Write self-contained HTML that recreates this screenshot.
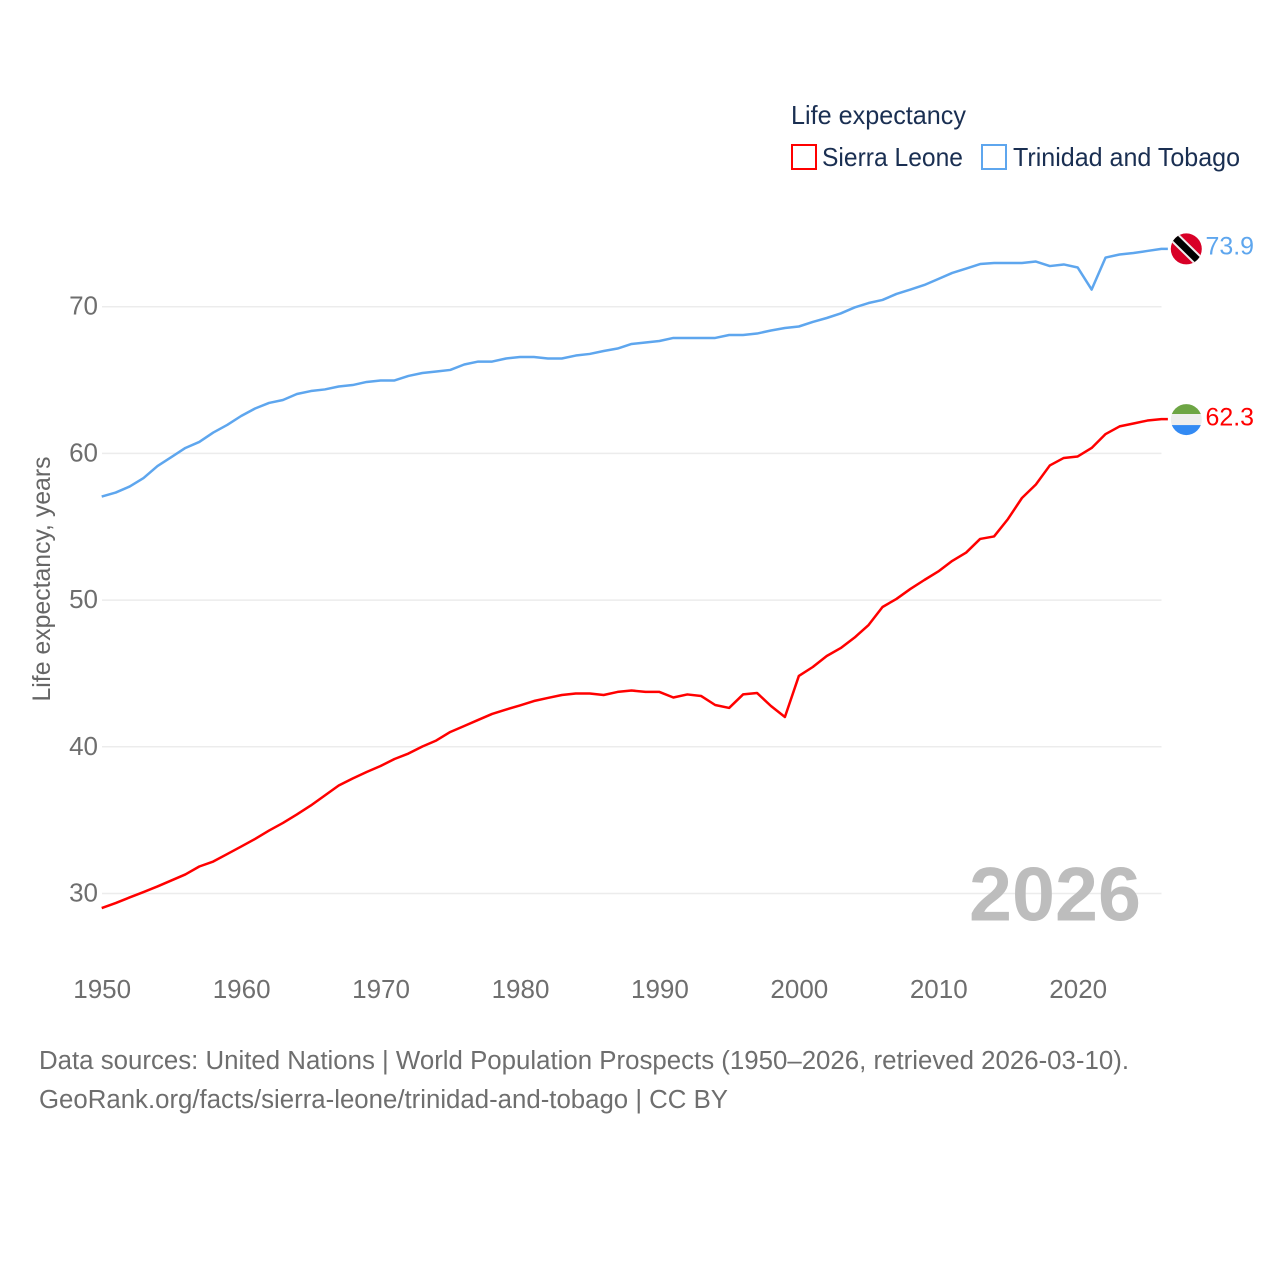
<!DOCTYPE html>
<html lang="en">
<head>
<meta charset="utf-8">
<title>Life expectancy: Sierra Leone and Trinidad and Tobago</title>
<style>
html,body{margin:0;padding:0;background:#fff;width:1280px;height:1280px;overflow:hidden}
svg{display:block}
text{font-family:"Liberation Sans",sans-serif}
</style>
</head>
<body>
<svg id="chart" xmlns="http://www.w3.org/2000/svg" width="1280" height="1280" viewBox="0 0 1280 1280">
  <rect x="0" y="0" width="1280" height="1280" fill="#ffffff"/>
  <g id="grid"></g>
  <g id="yticks"></g>
  <g id="xticks"></g>
  <text transform="translate(50 579) rotate(-90)" text-anchor="middle" font-size="25" fill="#666666" textLength="245" lengthAdjust="spacingAndGlyphs">Life expectancy, years</text>
  <text x="969" y="920.5" font-size="76" font-weight="700" fill="#bdbdbd" textLength="172" lengthAdjust="spacingAndGlyphs">2026</text>
  <g id="series"></g>
  <g id="ends"></g>
  <g>
    <text x="791" y="124" font-size="26" fill="#1a2f52" textLength="175" lengthAdjust="spacingAndGlyphs">Life expectancy</text>
    <g>
      <rect x="792" y="145" width="24" height="24" fill="none" stroke="#ff0000" stroke-width="2"/>
      <text x="822" y="166" font-size="26" fill="#1a2f52" textLength="141" lengthAdjust="spacingAndGlyphs">Sierra Leone</text>
    </g>
    <g>
      <rect x="982" y="145" width="24" height="24" fill="none" stroke="#5ea6ee" stroke-width="2"/>
      <text x="1013" y="166" font-size="26" fill="#1a2f52" textLength="227" lengthAdjust="spacingAndGlyphs">Trinidad and Tobago</text>
    </g>
  </g>
  <text x="39" y="1069" font-size="25.5" fill="#6e6e6e" textLength="1090" lengthAdjust="spacingAndGlyphs">Data sources: United Nations | World Population Prospects (1950–2026, retrieved 2026-03-10).</text>
  <text x="39" y="1108" font-size="25.5" fill="#6e6e6e" textLength="689" lengthAdjust="spacingAndGlyphs">GeoRank.org/facts/sierra-leone/trinidad-and-tobago | CC BY</text>
</svg>
<script>
const xTickYears = [1950, 1960, 1970, 1980, 1990, 2000, 2010, 2020];
const yTickValues = [30, 40, 50, 60, 70];
const startYear = 1950;
const sierraLeoneValues = [
  29.01,29.35,29.73,30.10,30.48,30.89,31.30,31.84,32.18,32.69,
  33.20,33.72,34.29,34.81,35.39,36.00,36.68,37.36,37.84,38.28,
  38.69,39.17,39.54,40.02,40.43,41.01,41.42,41.83,42.24,42.54,
  42.82,43.12,43.33,43.53,43.63,43.63,43.53,43.74,43.84,43.74,
  43.74,43.36,43.57,43.46,42.85,42.65,43.57,43.67,42.78,42.03,
  44.83,45.44,46.19,46.73,47.45,48.30,49.53,50.08,50.76,51.37,
  51.95,52.67,53.24,54.17,54.34,55.53,56.96,57.88,59.18,59.69,
  59.79,60.37,61.32,61.84,62.04,62.24,62.34
];
const trinidadValues = [
  57.06,57.33,57.74,58.32,59.14,59.75,60.37,60.78,61.42,61.94,
  62.55,63.06,63.44,63.64,64.05,64.25,64.36,64.56,64.66,64.87,
  64.97,64.97,65.28,65.48,65.58,65.69,66.06,66.26,66.26,66.47,
  66.57,66.57,66.47,66.47,66.67,66.78,66.98,67.15,67.46,67.56,
  67.66,67.87,67.87,67.87,67.87,68.07,68.07,68.17,68.38,68.55,
  68.65,68.96,69.23,69.54,69.95,70.25,70.46,70.87,71.17,71.48,
  71.89,72.30,72.60,72.91,72.98,72.98,72.98,73.08,72.77,72.88,
  72.67,71.17,73.35,73.56,73.66,73.80,73.94
];

const NS = 'http://www.w3.org/2000/svg';
function xScale(year) { return 101.7 + (year - 1950) * 13.943; }
function yScale(value) { return 893.5 - (value - 30) * 14.67; }
function make(tag, attrs, parent) {
  const el = document.createElementNS(NS, tag);
  for (const k in attrs) el.setAttribute(k, attrs[k]);
  parent.appendChild(el);
  return el;
}

const grid = document.getElementById('grid');
const yticks = document.getElementById('yticks');
const xticks = document.getElementById('xticks');
const seriesGroup = document.getElementById('series');
const ends = document.getElementById('ends');

yTickValues.forEach(function (v) {
  const line = make('line', {x1: 102, x2: 1161.5, y1: yScale(v), y2: yScale(v), stroke: '#ececec', 'stroke-width': 1.5}, grid);
  
  
  const t = make('text', {x: 98, y: yScale(v) + 8, 'text-anchor': 'end', 'font-size': 26, fill: '#6e6e6e'}, yticks);
  t.textContent = String(v);
  
  
});

xTickYears.forEach(function (yr) {
  const t = make('text', {x: xScale(yr) + 0.5, y: 998, 'text-anchor': 'middle', 'font-size': 26, fill: '#6e6e6e'}, xticks);
  t.textContent = String(yr);
  
  
});

function drawSeries(values, color, lineName) {
  const pts = values.map(function (v, i) { return xScale(startYear + i).toFixed(2) + ',' + yScale(v).toFixed(2); });
  const lastY = yScale(values[values.length - 1]);
  const lastX = xScale(startYear + values.length - 1);
  pts.push((lastX + 6.5).toFixed(2) + ',' + lastY.toFixed(2));
  const line = make('polyline', {points: pts.join(' '), fill: 'none', stroke: color, 'stroke-width': 2.5, 'stroke-linejoin': 'round'}, seriesGroup);
  
  
}
drawSeries(sierraLeoneValues, '#ff0000', 'line-sierra-leone');
drawSeries(trinidadValues, '#5ea6ee', 'line-trinidad-and-tobago');

function clipFor(id, cy) {
  const defs = make('defs', {}, ends);
  const cp = make('clipPath', {id: id}, defs);
  make('circle', {cx: 1186.3, cy: cy, r: 15.5}, cp);
}

/* Sierra Leone end marker */
const slValue = sierraLeoneValues[sierraLeoneValues.length - 1];
const slY = yScale(slValue);
const slFlagY = slY + 0.5;
clipFor('clip-sl', slFlagY);
const slFlag = make('g', {'clip-path': 'url(#clip-sl)'}, ends);


make('rect', {x: 1170, y: slFlagY - 16, width: 32, height: 10.5, fill: '#6da544'}, slFlag);
make('rect', {x: 1170, y: slFlagY - 5.5, width: 32, height: 11, fill: '#eeeeee'}, slFlag);
make('rect', {x: 1170, y: slFlagY + 5.5, width: 32, height: 10.5, fill: '#338af3'}, slFlag);
const slLabel = make('text', {x: 1205.5, y: slY + 6.5, 'font-size': 25, fill: '#ff0000', textLength: 48.5, lengthAdjust: 'spacingAndGlyphs'}, ends);
slLabel.textContent = slValue.toFixed(1);



/* Trinidad and Tobago end marker */
const ttValue = trinidadValues[trinidadValues.length - 1];
const ttY = yScale(ttValue);
clipFor('clip-tt', ttY);
const ttFlag = make('g', {'clip-path': 'url(#clip-tt)'}, ends);


make('rect', {x: 1170, y: ttY - 16, width: 32, height: 32, fill: '#d80027'}, ttFlag);
make('line', {x1: 1171, y1: ttY - 15, x2: 1201.6, y2: ttY + 15, stroke: '#eeeeee', 'stroke-width': 11}, ttFlag);
make('line', {x1: 1171, y1: ttY - 15, x2: 1201.6, y2: ttY + 15, stroke: '#000000', 'stroke-width': 7}, ttFlag);
const ttLabel = make('text', {x: 1205.5, y: ttY + 5.5, 'font-size': 25, fill: '#5ea6ee', textLength: 48.5, lengthAdjust: 'spacingAndGlyphs'}, ends);
ttLabel.textContent = ttValue.toFixed(1);


</script>
</body>
</html>
